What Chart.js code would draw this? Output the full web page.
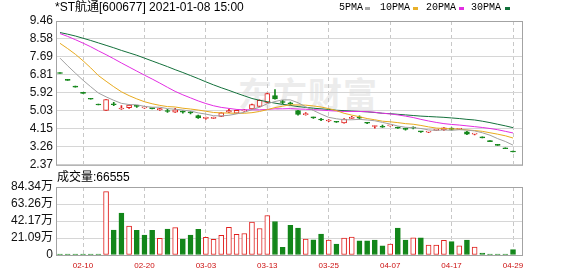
<!DOCTYPE html>
<html>
<head>
<meta charset="utf-8">
<script src="https://cdn.jsdelivr.net/npm/chart.js"></script>
<style>
  body { margin: 0; background: #fff; }
  #wrap { position: relative; width: 578px; height: 276px; overflow: hidden; background: #fff; }
  canvas { position: absolute; left: 0; }
  .txt { position: absolute; font: 12px 'Liberation Sans', 'Noto Sans CJK SC', sans-serif; color: #000; line-height: 14px; white-space: nowrap; }
  .leg { position: absolute; top: 2px; font: 10px 'Liberation Mono', monospace; color: #000; line-height: 12px; }
  .sw { position: absolute; top: 7px; width: 5px; height: 3px; }
  .wm { position: absolute; left: 238px; top: 68px; font: bold 34px 'Noto Sans CJK SC', sans-serif; color: #ececec; letter-spacing: 1px; }
</style>
</head>
<body>
<div id="wrap">
  <div class="wm">东方财富</div>
  <canvas id="priceChart" width="578" height="175" style="top:0"></canvas>
  <canvas id="volChart" width="578" height="100" style="top:176px"></canvas>
  <div class="txt" style="left:55px;top:0px">*ST航通[600677] 2021-01-08 15:00</div>
  <div class="leg" style="left:339px">5PMA</div><div class="sw" style="left:365px;background:#a8a8a8"></div>
  <div class="leg" style="left:380px">10PMA</div><div class="sw" style="left:413px;background:#e8b02a"></div>
  <div class="leg" style="left:426px">20PMA</div><div class="sw" style="left:459px;background:#e22de2"></div>
  <div class="leg" style="left:471px">30PMA</div><div class="sw" style="left:505px;background:#11703a"></div>
  <div class="txt" style="left:57px;top:170px">成交量:66555</div>
</div>
<script>
const dates = ['02-05','02-06','02-07','02-10','02-11','02-12','02-13','02-14','02-17','02-18',
  '02-19','02-20','02-21','02-24','02-25','02-26','02-27','02-28','03-02','03-03',
  '03-04','03-05','03-06','03-09','03-10','03-11','03-12','03-13','03-16','03-17',
  '03-18','03-19','03-20','03-23','03-24','03-25','03-26','03-27','03-30','03-31',
  '04-01','04-02','04-03','04-07','04-08','04-09','04-10','04-13','04-14','04-15',
  '04-16','04-17','04-20','04-21','04-22','04-23','04-24','04-27','04-28','04-29'];

const open = [6.87,6.53,6.20,5.89,5.60,5.32,5.05,5.38,5.12,5.19,
  5.27,5.18,5.15,5.08,5.04,4.97,5.00,4.95,4.80,4.66,
  4.66,4.76,4.96,4.92,5.03,5.13,5.25,5.45,5.78,5.48,
  5.41,5.04,4.84,4.70,4.62,4.53,4.49,4.43,4.66,4.72,
  4.45,4.26,4.25,4.29,4.22,4.14,4.20,4.01,3.98,4.07,
  4.09,4.18,4.12,4.00,3.88,3.70,3.51,3.33,3.16,3.00];
const high = [6.87,6.53,6.20,5.89,5.60,5.32,5.59,5.45,5.29,5.34,
  5.30,5.22,5.17,5.16,5.10,5.15,5.03,4.99,4.82,4.72,
  4.72,4.95,5.12,5.08,5.10,5.36,5.57,5.90,6.08,5.55,
  5.46,5.06,4.95,4.72,4.66,4.60,4.50,4.65,4.76,4.78,
  4.47,4.29,4.33,4.32,4.23,4.18,4.24,4.02,4.00,4.10,
  4.21,4.19,4.17,4.02,3.91,3.70,3.51,3.33,3.16,3.00];
const low = [6.87,6.53,6.20,5.89,5.60,5.32,5.05,5.28,5.10,5.15,
  5.20,5.15,5.12,5.05,4.95,4.95,4.92,4.88,4.66,4.62,
  4.64,4.74,4.94,4.90,5.00,5.10,5.22,5.42,5.60,5.38,
  5.32,4.82,4.82,4.66,4.54,4.50,4.46,4.42,4.64,4.62,
  4.40,4.18,4.21,4.27,4.16,4.08,4.14,3.97,3.96,4.05,
  4.07,4.08,4.10,3.85,3.84,3.70,3.51,3.33,3.16,3.00];
const close = [6.87,6.53,6.20,5.89,5.60,5.32,5.59,5.33,5.15,5.31,
  5.25,5.19,5.14,5.14,5.00,5.08,4.97,4.93,4.68,4.68,
  4.70,4.93,5.04,5.06,5.06,5.34,5.55,5.88,5.62,5.44,
  5.38,4.85,4.88,4.68,4.58,4.58,4.47,4.63,4.70,4.67,
  4.42,4.28,4.22,4.31,4.18,4.12,4.18,3.99,3.99,4.09,
  4.19,4.11,4.14,3.88,3.90,3.70,3.51,3.33,3.16,3.00];
// 成交量, 万股
const volume = [0.3,0.3,0.3,0.3,0.3,0.4,78.6,30.9,52.0,36.0,
  30.6,24.7,30.6,20.6,32.0,34.0,19.8,24.7,31.7,21.8,
  19.3,24.3,34.2,25.5,26.7,40.7,32.9,49.0,41.6,9.5,
  36.8,33.5,19.8,18.8,25.9,18.5,13.6,21.0,22.2,17.5,
  17.5,18.5,11.3,13.4,33.3,18.5,21.4,21.4,12.3,12.3,
  18.1,16.5,11.5,18.5,9.9,2.5,1.2,1.0,1.0,6.6555];

const ma5 = [7.63,7.25,6.89,6.54,6.22,5.91,5.72,5.55,5.40,5.34,
  5.33,5.25,5.21,5.21,5.14,5.11,5.07,5.02,4.93,4.87,
  4.79,4.78,4.81,4.88,4.96,5.09,5.21,5.38,5.49,5.57,
  5.57,5.43,5.23,5.05,4.87,4.71,4.64,4.59,4.59,4.61,
  4.58,4.54,4.46,4.38,4.28,4.22,4.20,4.16,4.09,4.07,
  4.09,4.07,4.10,4.08,4.04,3.95,3.83,3.66,3.52,3.34];
const ma10 = [8.36,8.10,7.82,7.50,7.15,6.77,6.49,6.22,5.97,5.78,
  5.62,5.48,5.38,5.30,5.24,5.22,5.16,5.12,5.07,5.01,
  4.95,4.93,4.92,4.91,4.91,4.94,5.00,5.09,5.19,5.26,
  5.33,5.32,5.31,5.27,5.22,5.14,5.04,4.91,4.82,4.74,
  4.65,4.59,4.52,4.49,4.45,4.40,4.37,4.31,4.24,4.18,
  4.16,4.14,4.13,4.09,4.06,4.02,3.95,3.88,3.80,3.69];
const ma20 = [8.84,8.70,8.54,8.37,8.19,7.99,7.80,7.60,7.39,7.19,
  6.99,6.79,6.60,6.40,6.19,5.99,5.82,5.67,5.52,5.39,
  5.28,5.20,5.15,5.10,5.08,5.08,5.08,5.10,5.13,5.13,
  5.14,5.12,5.11,5.09,5.07,5.04,5.02,5.00,5.00,5.00,
  4.99,4.96,4.91,4.88,4.83,4.77,4.70,4.61,4.53,4.46,
  4.40,4.36,4.33,4.29,4.25,4.21,4.16,4.10,4.02,3.94];
const ma30 = [8.89,8.81,8.72,8.61,8.50,8.38,8.26,8.14,8.01,7.89,
  7.77,7.63,7.49,7.35,7.21,7.06,6.92,6.77,6.62,6.46,
  6.31,6.17,6.04,5.90,5.77,5.64,5.55,5.48,5.41,5.35,
  5.30,5.24,5.20,5.16,5.13,5.10,5.06,5.04,5.02,5.00,
  4.98,4.95,4.91,4.89,4.86,4.83,4.80,4.77,4.75,4.73,
  4.71,4.68,4.65,4.61,4.58,4.52,4.45,4.37,4.29,4.20];

// tick labels
const priceTicks = ['2.37','3.26','4.15','5.03','5.92','6.81','7.69','8.58','9.46'];
const volTicks = ['0','21.09万','42.17万','63.26万','84.34万'];
const labelIdx = [3, 11, 19, 27, 35, 43, 51, 59];

const RED = '#e0201e';
const GREEN = '#13861a';
const FONT = "'Liberation Sans', 'Noto Sans CJK SC', sans-serif";

const candleUp = close.map((c, i) => c > open[i] || (c === open[i] && i > 0 && c >= close[i - 1]));
const volUp = close.map((c, i) => i > 0 && c >= close[i - 1]);

const pMin = +priceTicks[0], pMax = +priceTicks[priceTicks.length - 1];
const vMax = parseFloat(volTicks[volTicks.length - 1]);

const framePlugin = {
  id: 'frame',
  afterDraw(chart) {
    const { ctx, chartArea: a } = chart;
    ctx.save();
    ctx.strokeStyle = '#a3a3a3';
    ctx.lineWidth = 1;
    ctx.strokeRect(a.left + 0.5, a.top + 0.5, a.right - a.left, a.bottom - a.top);
    ctx.restore();
  }
};

function xScale(showLabels) {
  return {
    type: 'linear',
    min: -0.52,
    max: 60.17,
    offset: false,
    grid: { offset: false, color: '#c8c8c8', drawTicks: false },
    border: { display: false, dash: [4, 3] },
    afterBuildTicks: s => { s.ticks = labelIdx.map(v => ({ value: v })); },
    ticks: {
      display: showLabels,
      autoSkip: false,
      maxRotation: 0,
      padding: 6,
      color: '#cc1010',
      font: { family: FONT, size: 8 },
      callback: v => dates[v]
    },
    afterFit: s => { s.height = showLabels ? 21 : 0; }
  };
}

function yScale(min, max, labels) {
  return {
    min: min,
    max: max,
    afterBuildTicks: s => { s.ticks = labels.map((t, i) => ({ value: min + (max - min) * i / (labels.length - 1) })); },
    grid: { color: '#d6d6d6', drawTicks: false },
    border: { display: false },
    ticks: { autoSkip: false, padding: 3, color: '#111', font: { family: FONT, size: 12 }, callback: (v, i) => labels[i] },
    afterFit: s => { s.width = 56; }
  };
}

const lineDs = (data, color) => ({
  type: 'line',
  data: data.map((v, i) => ({ x: i, y: v })),
  borderColor: color,
  borderWidth: 1,
  pointRadius: 0,
  tension: 0,
  order: 0
});

// K线 + 均线
new Chart(document.getElementById('priceChart'), {
  type: 'bar',
  data: {
    datasets: [
      {
        data: dates.map((d, i) => ({ x: i, y: [low[i], high[i]] })),
        backgroundColor: candleUp.map(u => u ? RED : GREEN),
        barThickness: 1,
        minBarLength: 1,
        grouped: false,
        order: 2
      },
      {
        data: dates.map((d, i) => ({ x: i, y: [Math.min(open[i], close[i]), Math.max(open[i], close[i])] })),
        backgroundColor: dates.map((d, i) => (candleUp[i] && close[i] > open[i]) ? '#ffffff' : (candleUp[i] ? RED : GREEN)),
        borderColor: candleUp.map(u => u ? RED : GREEN),
        borderWidth: 1,
        borderSkipped: false,
        barThickness: 5,
        minBarLength: 1,
        grouped: false,
        order: 1
      },
      lineDs(ma5, '#a0a0a0'),
      lineDs(ma10, '#e8aa1e'),
      lineDs(ma20, '#e22de2'),
      lineDs(ma30, '#13703b')
    ]
  },
  options: {
    responsive: false,
    animation: false,
    layout: { padding: { top: 21, right: 56, bottom: 10, left: 0 } },
    plugins: { legend: { display: false }, tooltip: { enabled: false } },
    scales: {
      x: xScale(false),
      y: yScale(pMin, pMax, priceTicks)
    }
  },
  plugins: [framePlugin]
});

// 成交量
new Chart(document.getElementById('volChart'), {
  type: 'bar',
  data: {
    datasets: [{
      data: volume.map((v, i) => ({ x: i, y: v })),
      backgroundColor: volUp.map(u => u ? '#ffffff' : GREEN),
      borderColor: volUp.map(u => u ? RED : GREEN),
      borderWidth: 1,
      borderSkipped: false,
      barThickness: 5,
      minBarLength: 1,
      grouped: false
    }]
  },
  options: {
    responsive: false,
    animation: false,
    layout: { padding: { top: 11, right: 56, bottom: 0, left: 0 } },
    plugins: { legend: { display: false }, tooltip: { enabled: false } },
    scales: {
      x: xScale(true),
      y: yScale(0, vMax, volTicks)
    }
  },
  plugins: [framePlugin]
});
</script>
</body>
</html>
